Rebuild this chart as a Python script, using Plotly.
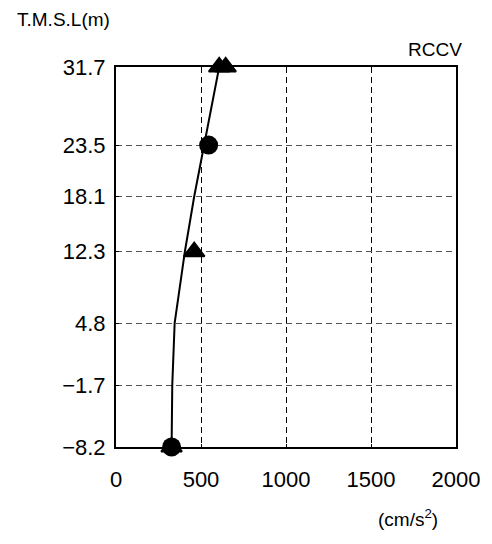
import plotly.graph_objects as go

# Y tick levels (T.M.S.L, m)
level_ticks = [31.7, 23.5, 18.1, 12.3, 4.8, -1.7, -8.2]
level_labels = ["31.7", "23.5", "18.1", "12.3", "4.8", "\u22121.7", "\u22128.2"]
x_ticks = [0, 500, 1000, 1500, 2000]

# Response line
line_levels = [-8.2, -1.7, 4.8, 12.3, 18.1, 23.5, 31.7]
line_acc = [327, 331, 345, 405, 460, 517, 607]

# Circle markers
circle_levels = [-8.2, 23.5]
circle_acc = [327, 545]

# Triangle markers
tri_levels = [-8.2, 12.3, 31.7, 31.7]
tri_acc = [327, 460, 607, 645]

FONT = "Arial, Liberation Sans, sans-serif"

fig = go.Figure()
fig.add_trace(go.Scatter(x=line_acc, y=line_levels, mode="lines",
                         line=dict(color="black", width=2), cliponaxis=False,
                         showlegend=False, hoverinfo="skip"))
fig.add_trace(go.Scatter(x=tri_acc, y=tri_levels, mode="markers",
                         marker=dict(symbol="triangle-up", size=18, color="black",
                                     line=dict(color="black", width=2)),
                         cliponaxis=False, showlegend=False))
fig.add_trace(go.Scatter(x=circle_acc, y=circle_levels, mode="markers",
                         marker=dict(symbol="circle", size=19, color="black"),
                         cliponaxis=False, showlegend=False))

fig.update_layout(
    width=492, height=544,
    margin=dict(l=116, r=30, t=67, b=97),
    paper_bgcolor="white", plot_bgcolor="white",
    font=dict(family=FONT, size=22, color="black"),
    showlegend=False,
    xaxis=dict(range=[0, 2000], tickvals=x_ticks, ticktext=[str(v) for v in x_ticks],
               showgrid=True, gridcolor="black", gridwidth=1, griddash="6px,4px",
               showline=True, linecolor="black", linewidth=2, mirror=True,
               ticks="inside", ticklen=3, tickcolor="black", zeroline=False,
               ticklabelstandoff=12,
               tickfont=dict(size=22, family=FONT)),
    yaxis=dict(range=[-8.2, 31.7], tickvals=level_ticks, ticktext=level_labels,
               showgrid=True, gridcolor="#555555", gridwidth=1, griddash="6px,4px",
               showline=True, linecolor="black", linewidth=2, mirror=True,
               ticks="inside", ticklen=3, tickcolor="black", zeroline=False,
               ticklabelstandoff=4,
               tickfont=dict(size=22, family=FONT)),
    annotations=[
        dict(text="T.M.S.L(m)", xref="paper", yref="paper", x=-103/346, y=1 + 47/380,
             xanchor="left", yanchor="middle", showarrow=False,
             font=dict(size=19, family=FONT)),
        dict(text="RCCV", xref="paper", yref="paper", x=1, y=1 + 18/380,
             xanchor="right", yanchor="middle", showarrow=False, xshift=8,
             font=dict(size=19, family=FONT)),
        dict(text="(cm/s<sup>2</sup>)", xref="paper", yref="paper", x=1 - 25/346, y=-71/380,
             xanchor="right", yanchor="middle", showarrow=False, xshift=9,
             font=dict(size=19, family=FONT)),
    ],
)

fig.write_html("out.html")
